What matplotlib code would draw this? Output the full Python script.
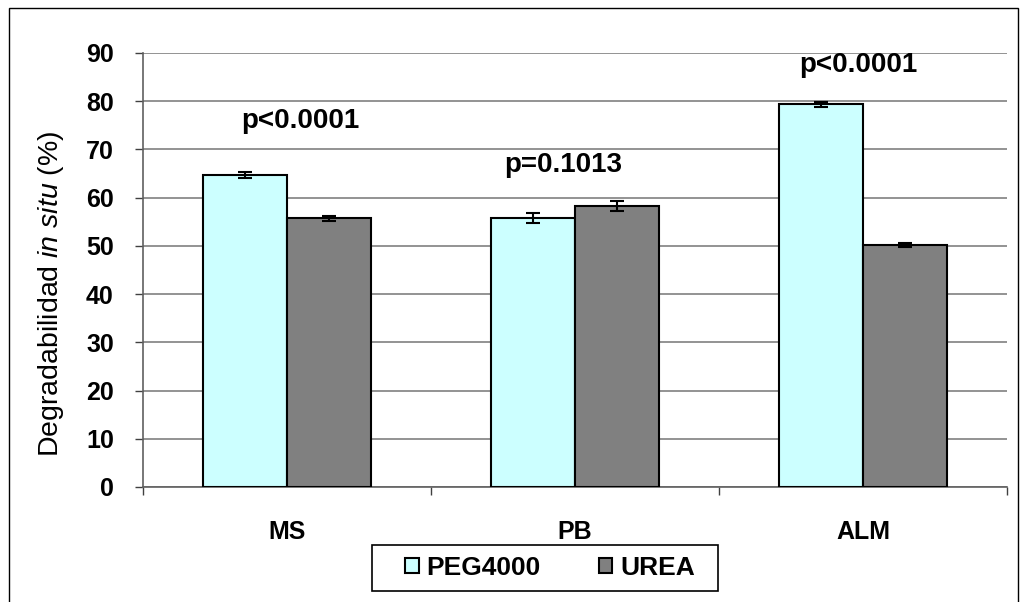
import matplotlib
matplotlib.use("Agg")
import matplotlib.pyplot as plt
import numpy as np
from matplotlib.patches import Rectangle

categories = ["MS", "PB", "ALM"]
series_names = ["PEG4000", "UREA"]
peg = [64.7, 55.8, 79.4]
urea = [55.7, 58.3, 50.2]
peg_err = [0.7, 1.1, 0.5]
urea_err = [0.6, 1.1, 0.5]
p_labels = ["p<0.0001", "p=0.1013", "p<0.0001"]
p_heights = [76.0, 66.8, 87.6]
p_offsets = [0.045, -0.04, -0.015]
yticks = list(range(0, 91, 10))

plt.rcParams['font.family'] = ['Liberation Sans', 'DejaVu Sans']
plt.rcParams['mathtext.fontset'] = 'custom'
plt.rcParams['mathtext.rm'] = 'Liberation Sans'
plt.rcParams['mathtext.it'] = 'Liberation Sans:italic'

W, H = 1027, 602
fig = plt.figure(figsize=(W/100, H/100), dpi=100)
fig.patches.append(Rectangle((9/W, -0.1), (1018-9)/W, 1.1 - 8/H, transform=fig.transFigure,
                             fill=False, edgecolor='black', linewidth=1.0))
ax = fig.add_axes([143/W, 1 - 487/H, (1007-143)/W, (487-53)/H])

x = np.arange(len(categories))
w = 0.29
c_peg = '#CCFFFF'
c_urea = '#808080'
ax.bar(x - w/2, peg, w, color=c_peg, edgecolor='black', linewidth=1.5, zorder=3, label=series_names[0])
ax.bar(x + w/2, urea, w, color=c_urea, edgecolor='black', linewidth=1.5, zorder=3, label=series_names[1])
ax.errorbar(x - w/2, peg, yerr=peg_err, fmt='none', ecolor='black', elinewidth=1.5, capsize=5, capthick=1.5, zorder=4)
ax.errorbar(x + w/2, urea, yerr=urea_err, fmt='none', ecolor='black', elinewidth=1.5, capsize=5, capthick=1.5, zorder=4)

for xi, lab, h, off in zip(x, p_labels, p_heights, p_offsets):
    ax.text(xi + off, h, lab, ha='center', va='center', fontsize=20, fontweight='bold')

ax.set_xlim(-0.5, len(categories) - 0.5)
ax.set_ylim(0, 90)
ax.set_yticks(yticks)
ax.set_yticklabels([str(t) for t in yticks], fontsize=18, fontweight='bold')
ax.set_xticks(x)
ax.set_xticklabels(categories, fontsize=18, fontweight='bold')
ax.tick_params(axis='x', which='major', length=0, pad=24)
ax.set_xticks(np.arange(-0.5, len(categories), 1.0), minor=True)
ax.tick_params(axis='x', which='minor', length=6, width=1, direction='out', color='#404040')
ax.tick_params(axis='y', length=6, width=1, direction='out', color='#404040', pad=15)
ax.yaxis.grid(True, color='#808080', linewidth=1.2, zorder=0)
ax.set_axisbelow(True)
for s in ['top', 'right']:
    ax.spines[s].set_visible(False)
ax.spines['left'].set_color('#606060')
ax.spines['bottom'].set_color('#606060')
ax.spines['left'].set_linewidth(1.2)
ax.spines['bottom'].set_linewidth(1.2)

fig.text(51/W, 1 - 294/H, r'$\mathrm{Degradabilidad}\ \mathit{in\ situ}\ \mathrm{(\%)}$',
         rotation=90, ha='center', va='center', fontsize=20.5)

# legend frame drawn separately to match the wide Excel padding
fig.patches.append(Rectangle((372/W, 1 - 591/H), (718-372)/W, (591-545)/H, transform=fig.transFigure,
                             fill=False, edgecolor='black', linewidth=1.2))
leg = fig.legend(loc='center', bbox_to_anchor=(550/W, 1 - 568/H), ncol=2, frameon=False,
                 prop={'weight': 'bold', 'size': 19},
                 handlelength=0.5, handleheight=0.5, handletextpad=0.3, columnspacing=2.2,
                 borderpad=0.35)

fig.savefig('out.png', dpi=100)
